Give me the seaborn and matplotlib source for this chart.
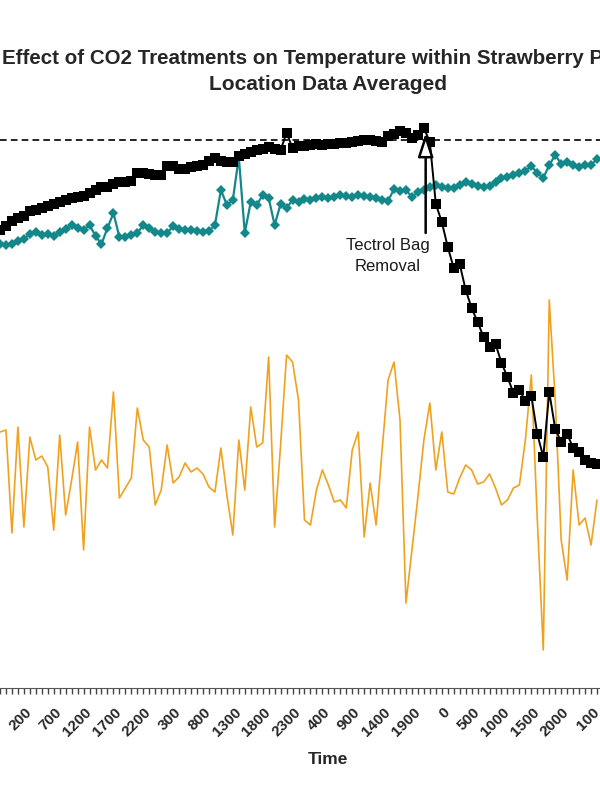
import pandas as pd
import matplotlib
matplotlib.use("Agg")
import matplotlib.pyplot as plt
import matplotlib.transforms as mtransforms
import seaborn as sns

# hourly readings, first point at 2100
start_hour = 21
n_points = 101

bag_closed = [45.8, 46.2, 46.7, 47.0, 47.2, 47.7, 47.8, 48.0, 48.2, 48.4,
              48.6, 48.8, 49.0, 49.1, 49.2, 49.5, 49.8, 50.1, 50.1, 50.4,
              50.6, 50.6, 50.7, 51.5, 51.5, 51.4, 51.3, 51.3, 52.2, 52.2,
              51.9, 51.9, 52.1, 52.2, 52.3, 52.7, 53.0, 52.7, 52.6, 52.6,
              53.2, 53.4, 53.6, 53.8, 53.9, 54.1, 53.9, 53.8, 55.5, 54.0,
              54.2, 54.2, 54.3, 54.4, 54.3, 54.4, 54.4, 54.5, 54.5, 54.6,
              54.7, 54.8, 54.8, 54.7, 54.6, 55.2, 55.4, 55.7, 55.5, 55.0,
              55.3, 56.0, 54.6, 48.4, 46.6, 44.1, 42.0, 42.4, 39.8, 38.0,
              36.6, 35.1, 34.1, 34.4, 32.5, 31.1, 29.5, 29.8, 28.7, 29.2,
              25.4, 23.1, 29.6, 25.9, 24.6, 25.4, 24.0, 23.6, 22.8, 22.5,
              22.4]

control = [44.4, 44.3, 44.4, 44.7, 44.9, 45.4, 45.6, 45.3, 45.4, 45.2,
           45.6, 45.9, 46.3, 46.0, 45.8, 46.3, 45.2, 44.4, 46.0, 47.5,
           45.1, 45.1, 45.3, 45.5, 46.3, 46.0, 45.6, 45.5, 45.5, 46.2,
           45.9, 45.8, 45.8, 45.7, 45.6, 45.7, 46.3, 49.8, 48.3, 48.8,
           53.1, 45.5, 48.6, 48.3, 49.3, 49.0, 46.3, 48.4, 48.0, 48.8,
           48.6, 48.9, 48.8, 49.0, 49.1, 49.0, 49.1, 49.3, 49.2, 49.1,
           49.3, 49.2, 49.1, 49.0, 48.8, 48.7, 49.9, 49.7, 49.8, 49.1,
           49.6, 49.8, 50.1, 50.3, 50.1, 50.0, 50.0, 50.3, 50.6, 50.4,
           50.2, 50.1, 50.2, 50.6, 51.0, 51.1, 51.3, 51.5, 51.7, 52.2,
           51.5, 51.0, 52.3, 53.3, 52.4, 52.6, 52.3, 52.1, 52.3, 52.3,
           52.9]

ambient = [25.6, 25.8, 15.5, 26.1, 16.1, 25.1, 22.8, 23.2, 22.1, 15.8,
           25.3, 17.3, 20.8, 24.6, 13.8, 26.1, 21.8, 22.8, 22.0, 29.6,
           19.0, 20.0, 21.0, 28.0, 24.8, 24.1, 18.3, 19.8, 24.3, 20.5,
           21.1, 22.5, 21.6, 22.0, 21.4, 20.1, 19.6, 24.0, 19.3, 15.3,
           24.8, 19.8, 28.1, 24.1, 24.5, 33.1, 16.1, 24.3, 33.3, 32.6,
           28.8, 16.8, 16.3, 19.8, 21.8, 20.3, 18.6, 18.8, 18.0, 23.8,
           25.6, 15.1, 20.5, 16.3, 23.8, 30.8, 32.6, 26.8, 8.5, 13.8,
           19.1, 24.8, 28.5, 21.8, 25.6, 19.6, 19.4, 21.0, 22.3, 21.8,
           20.4, 20.6, 21.4, 20.0, 18.3, 18.8, 20.0, 20.3, 24.8, 31.3,
           16.8, 3.8, 38.8, 28.8, 14.8, 10.8, 21.8, 16.3, 17.0, 14.3,
           18.8]

reference_level = 54.8
removal_idx = 71.3

times = [((start_hour + i) % 24) * 100 for i in range(n_points)]
df = pd.DataFrame({"idx": range(n_points), "closed": bag_closed,
                   "control": control, "ambient": ambient})

sns.set_style("white")
plt.rcParams["font.family"] = ["Liberation Sans", "DejaVu Sans"]

fig = plt.figure(figsize=(6, 8), dpi=100)
ax = fig.add_axes([0, 0.14, 1, 0.75])

sns.lineplot(data=df, x="idx", y="ambient", color="#F0A21E", linewidth=1.2, ax=ax)
sns.lineplot(data=df, x="idx", y="control", color="#12888A", linewidth=1.6,
             marker="D", markersize=5, markeredgewidth=0, ax=ax)
sns.lineplot(data=df, x="idx", y="closed", color="black", linewidth=1.4,
             marker="s", markersize=7, markeredgewidth=0, ax=ax)
ax.axhline(reference_level, color="black", linestyle=(0, (4, 2.5)), linewidth=1.2)

# bag removal marker
ax.annotate("", xy=(removal_idx, 55.5), xytext=(removal_idx, 45.5),
            arrowprops=dict(arrowstyle="-|>,head_length=1.45,head_width=0.47",
                            facecolor="white", edgecolor="black", linewidth=1.8,
                            shrinkA=0, shrinkB=0))
ax.text(64.9, 43.2, "Tectrol Bag\nRemoval", ha="center", va="center",
        fontsize=12, color="#1a1a1a", linespacing=1.45)

ax.set_xlim(0.5, 100.5)
ax.set_ylim(0, 60)
ax.set_xticks(range(n_points))
ax.set_xticklabels([str(t) if i % 5 == 0 else "" for i, t in enumerate(times)],
                   rotation=45, ha="right", va="top", rotation_mode="anchor",
                   fontsize=11, fontweight="bold")
ax.tick_params(axis="x", bottom=True, length=4, width=1, color="#444444",
               direction="out", pad=4)
shift = mtransforms.ScaledTranslation(-5 / 100, -6 / 100, fig.dpi_scale_trans)
for lab in ax.get_xticklabels():
    lab.set_transform(lab.get_transform() + shift)
ax.set_yticks([])
ax.set_ylabel("")
ax.set_xlabel("")
for side in ["left", "top", "right"]:
    ax.spines[side].set_visible(False)
ax.spines["bottom"].set_color("#555555")

fig.text(2 / 600, 1 - 59 / 800, "Effect of CO2 Treatments on Temperature within Strawberry Pallets",
         ha="left", va="center", fontsize=14.8, fontweight="bold")
fig.text(328 / 600, 1 - 84 / 800, "Location Data Averaged",
         ha="center", va="center", fontsize=15, fontweight="bold")
fig.text(328 / 600, 1 - 760 / 800, "Time", ha="center", va="center",
         fontsize=12.5, fontweight="bold")

fig.savefig("out.png", dpi=100)
